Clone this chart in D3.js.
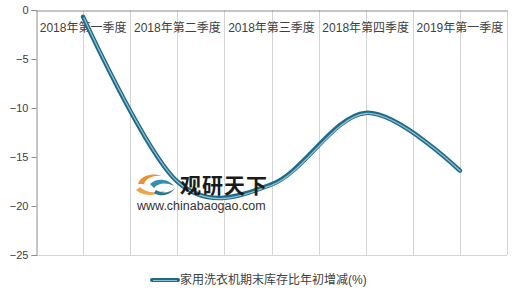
<!DOCTYPE html>
<html>
<head>
<meta charset="utf-8">
<script src="https://cdn.jsdelivr.net/npm/d3@7"></script>
<style>
  body { margin: 0; background: #fff; }
  svg { display: block; }
</style>
</head>
<body>
<svg id="chart"></svg>
<script>
// data
const categories = ["2018年第一季度", "2018年第二季度", "2018年第三季度", "2018年第四季度", "2019年第一季度"];
const values = [-0.7, -17.5, -17.8, -10.5, -16.4];
const yTicks = [0, -5, -10, -15, -20, -25];
const seriesName = "家用洗衣机期末库存比年初增减(%)";

var width = 520,
    height = 294;

var svg = d3.select("#chart")
    .attr("width", width)
    .attr("height", height);

// plot area (note: "top" is a reserved window property, so use other names)
var plotLeft = 36, plotRight = 507, plotTop = 10, plotBottom = 255;

var xScale = d3.scaleBand().domain(categories).range([plotLeft, plotRight]).padding(0);
var yScale = d3.scaleLinear().domain([-25, 0]).range([plotBottom, plotTop]);

var font = "'Liberation Sans', 'Noto Sans CJK SC', sans-serif";

// vertical gridlines: category edges and centers
var gridX = [];
categories.forEach(c => {
    gridX.push(xScale(c) + xScale.bandwidth() / 2);
    gridX.push(xScale(c) + xScale.bandwidth());
});

svg.append("g")
    .selectAll("line")
    .data(gridX)
    .join("line")
    .attr("x1", d => Math.round(d) + 0.5).attr("x2", d => Math.round(d) + 0.5)
    .attr("y1", plotTop).attr("y2", plotBottom)
    .attr("stroke", "#d4d4d4")
    .attr("stroke-width", 1);

// bottom line
svg.append("line")
    .attr("x1", plotLeft).attr("x2", plotRight)
    .attr("y1", plotBottom + 0.5).attr("y2", plotBottom + 0.5)
    .attr("stroke", "#d4d4d4");

// y axis
var yAxis = svg.append("g")
    .attr("transform", "translate(" + (plotLeft + 0.5) + ",0)")
    .call(d3.axisLeft(yScale).tickValues(yTicks).tickSize(5).tickFormat(d3.format("d")));
yAxis.select(".domain").attr("stroke", "#8c8c8c");
yAxis.selectAll(".tick line").attr("stroke", "#8c8c8c");
yAxis.selectAll("text")
    .attr("fill", "#404040")
    .style("font-family", font)
    .style("font-size", "11px")
    .attr("x", -8);

// x axis at zero (top), labels below it
var xAxis = svg.append("g")
    .attr("transform", "translate(0," + (yScale(0) + 0.5) + ")")
    .call(d3.axisBottom(xScale).tickSize(0));
xAxis.select(".domain").attr("stroke", "#8c8c8c");
xAxis.selectAll("text")
    .attr("fill", "#404040")
    .attr("dy", "0")
    .attr("y", 21)
    .style("font-family", font)
    .style("font-size", "12px");

// watermark
var wm = svg.append("g").attr("opacity", 0.95);
wm.append("path")
    .attr("d", "M138,184 C140,176 152,172 162,176 C154,175 146,178 144,184 Z")
    .attr("fill", "#e98a2a");
wm.append("path")
    .attr("d", "M136,190 C142,196 156,197 166,190 C158,194 146,193 140,187 Z")
    .attr("fill", "#f0a040");
wm.append("path")
    .attr("d", "M150,184 C156,178 168,178 174,186 C166,182 158,183 154,188 Z")
    .attr("fill", "#2a8aa8");
wm.append("path")
    .attr("d", "M156,190 C162,194 170,193 175,188 C170,196 160,197 154,193 Z")
    .attr("fill", "#1f6f8f");

// line (drawn under the watermark text)
var line = d3.line()
    .x((d, i) => xScale(categories[i]) + xScale.bandwidth() / 2)
    .y(d => yScale(d))
    .curve(d3.curveCardinal.tension(0));

svg.append("path")
    .datum(values)
    .attr("d", line)
    .attr("fill", "none")
    .attr("stroke", "#1e6a88")
    .attr("stroke-width", 4.5)
    .attr("stroke-linecap", "round");

svg.append("path")
    .datum(values)
    .attr("d", line)
    .attr("fill", "none")
    .attr("stroke", "#8fbfd0")
    .attr("stroke-width", 1.3)
    .attr("transform", "translate(0.6,0.6)");

svg.append("text")
    .attr("x", 180).attr("y", 193)
    .attr("fill", "#1a1a1a")
    .style("font-family", "'Noto Sans CJK SC', sans-serif")
    .style("font-weight", "bold")
    .style("font-size", "21px")
    .style("letter-spacing", "1px")
    .text("观研天下");
svg.append("text")
    .attr("x", 137).attr("y", 210)
    .attr("fill", "#333")
    .style("font-family", "'Liberation Sans', sans-serif")
    .style("font-size", "12.5px")
    .text("www.chinabaogao.com");

// legend
var lg = svg.append("g").attr("transform", "translate(152,280)");
lg.append("line")
    .attr("x1", 0).attr("x2", 26)
    .attr("stroke", "#1e6a88")
    .attr("stroke-width", 4)
    .attr("stroke-linecap", "round");
lg.append("line")
    .attr("x1", 1).attr("x2", 25)
    .attr("y1", 0.5).attr("y2", 0.5)
    .attr("stroke", "#8fbfd0")
    .attr("stroke-width", 1);
lg.append("text")
    .attr("x", 28).attr("y", 4)
    .attr("fill", "#404040")
    .style("font-family", font)
    .style("font-size", "12px")
    .text(seriesName);
</script>
</body>
</html>
